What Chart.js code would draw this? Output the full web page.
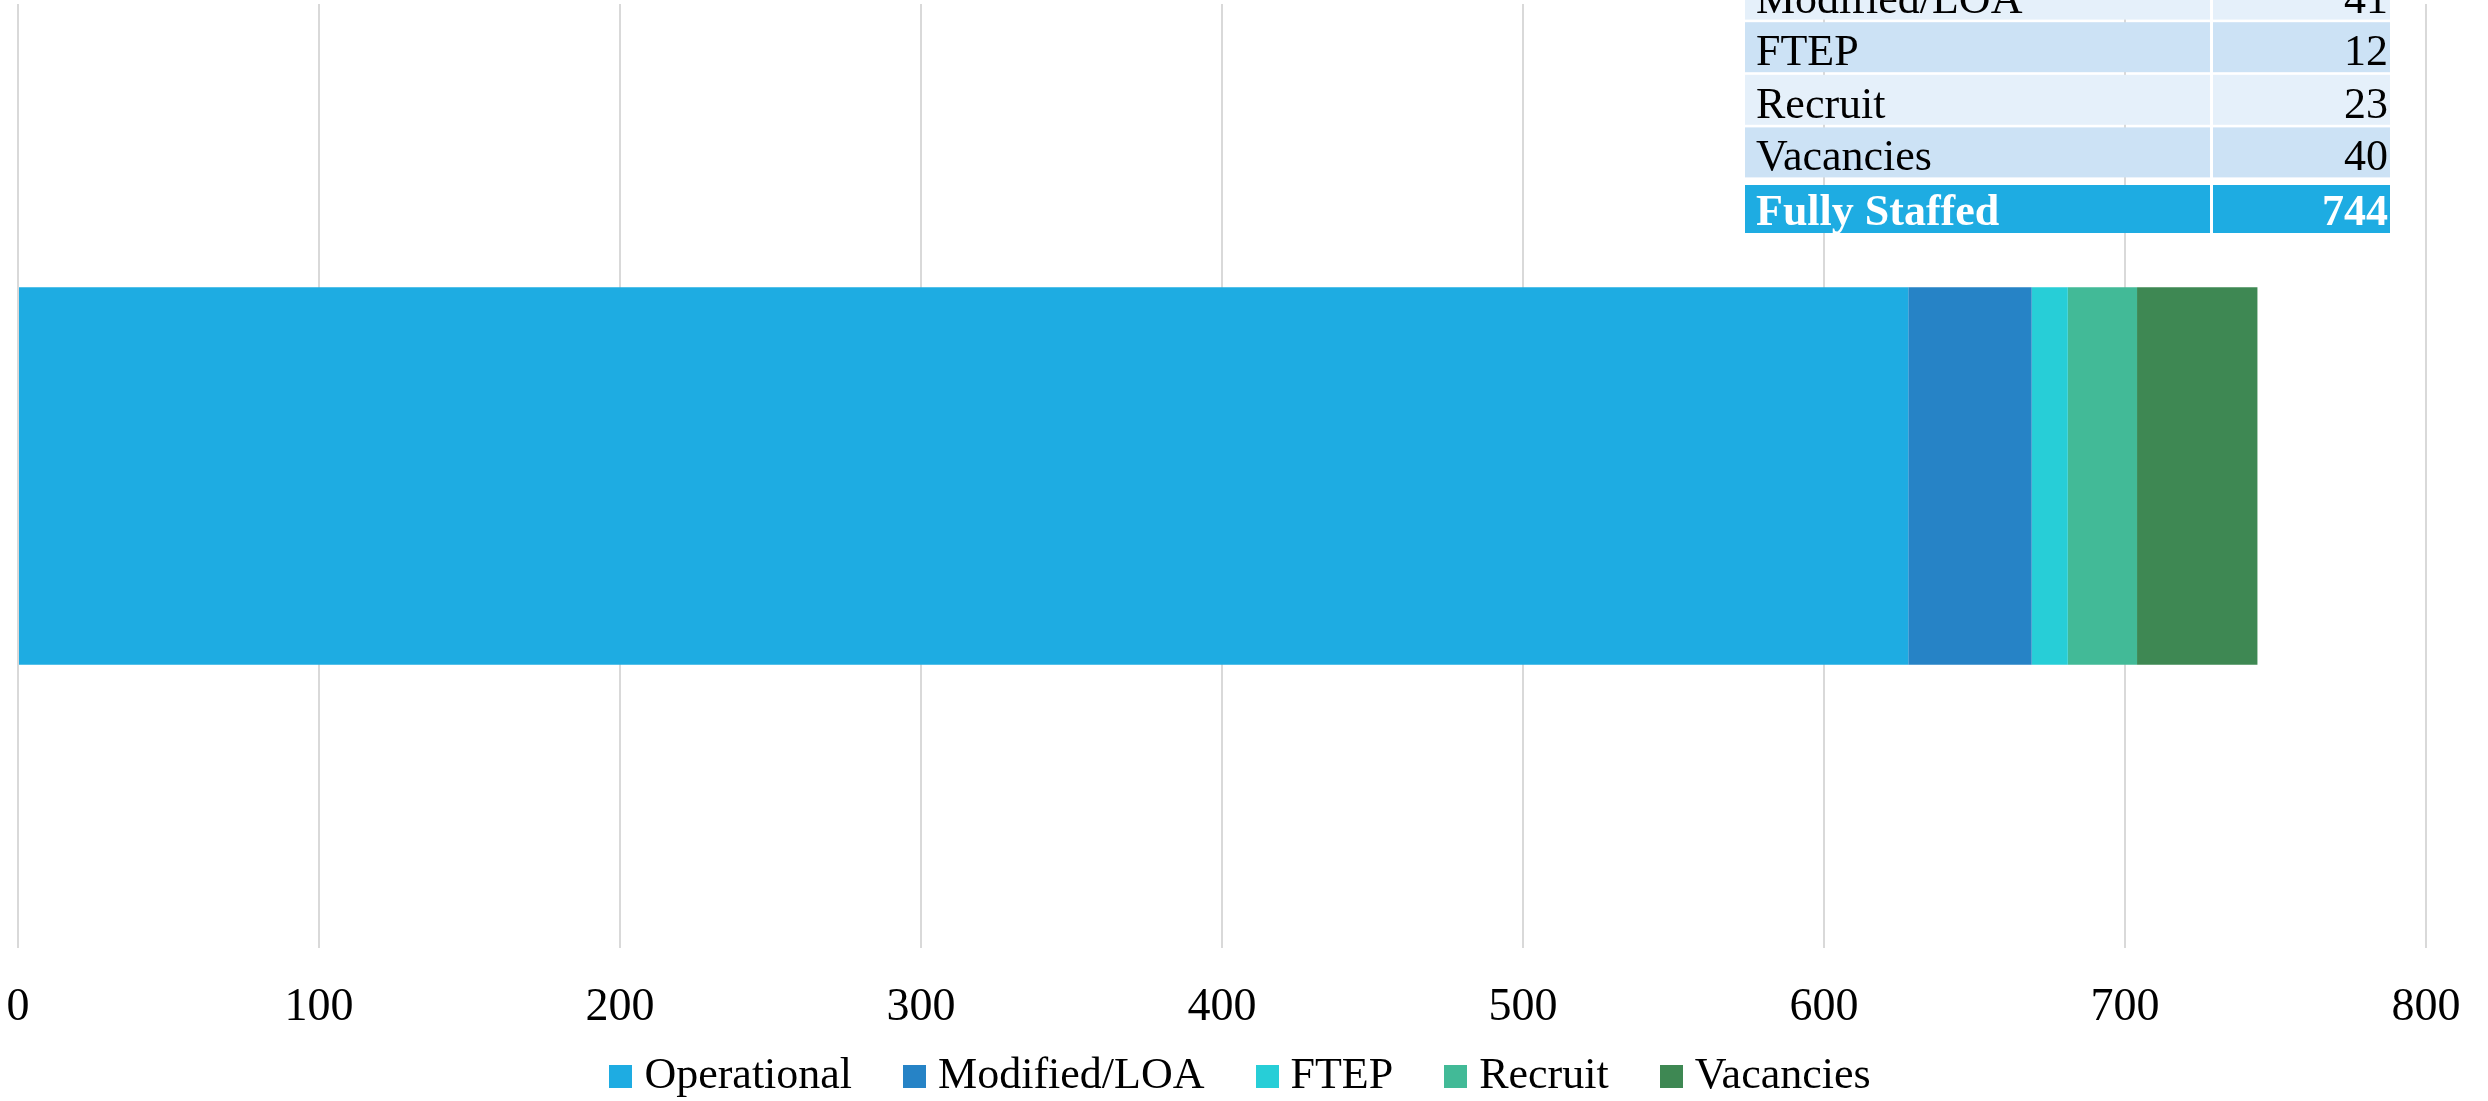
<!DOCTYPE html>
<html>
<head>
<meta charset="utf-8">
<script src="https://cdn.jsdelivr.net/npm/chart.js@4"></script>
<style>
  html, body { margin: 0; padding: 0; background: #fff; }
  #wrap { width: 2488px; height: 1101px; position: relative; }
</style>
</head>
<body>
<div id="wrap"><canvas id="staffing"></canvas></div>
<script>
const categories = ['Staffing']
const seriesNames = ['Operational', 'Modified/LOA', 'FTEP', 'Recruit', 'Vacancies']
const seriesValues = [628, 41, 12, 23, 40]
const seriesColors = ['#1EACE2', '#2683C6', '#27CED7', '#42BA97', '#3E8853']
const xTicks = [0, 100, 200, 300, 400, 500, 600, 700, 800]
const totalLabel = 'Fully Staffed'
const totalValue = 744

const FONT = "'Liberation Serif', 'DejaVu Serif', serif"

// square legend swatch, drawn as an image so the text can sit close to it
function swatch(color) {
  const c = document.createElement('canvas')
  c.width = 23
  c.height = 23
  const g = c.getContext('2d')
  g.fillStyle = color
  g.fillRect(0, 0, 23, 23)
  return c
}

// summary table in the top right corner (partly cut off at the top)
const tablePlugin = {
  id: 'summaryTable',
  afterDraw(chart) {
    const ctx = chart.ctx
    const left = 1745, split = 2211, right = 2390
    const pitch = 52.6, rowH = 50
    const firstTop = 185 - 8 - pitch * 5 + 3
    const rows = seriesNames.map((n, i) => [n, seriesValues[i]])
    ctx.save()
    rows.forEach((r, i) => {
      const top = firstTop + i * pitch
      ctx.fillStyle = i % 2 === 1 ? '#E5F0FA' : '#CCE2F5'
      ctx.fillRect(left, top, split - left - 1, rowH)
      ctx.fillRect(split + 2, top, right - split - 2, rowH)
      ctx.fillStyle = '#000'
      ctx.font = '44px ' + FONT
      ctx.textBaseline = 'alphabetic'
      ctx.textAlign = 'left'
      ctx.fillText(r[0], left + 11, top + 43)
      ctx.textAlign = 'right'
      ctx.fillText(String(r[1]), right - 2, top + 43)
    })
    const top = 185
    ctx.fillStyle = '#1EACE2'
    ctx.fillRect(left, top, split - left - 1, 48)
    ctx.fillRect(split + 2, top, right - split - 2, 48)
    ctx.fillStyle = '#fff'
    ctx.font = 'bold 44px ' + FONT
    ctx.textAlign = 'left'
    ctx.fillText(totalLabel, left + 11, top + 40)
    ctx.textAlign = 'right'
    ctx.fillText(String(totalValue), right - 2, top + 40)
    ctx.restore()
  }
}

// pull the legend up and re-center it on the page, not on the plot area
const legendShift = {
  id: 'legendShift',
  afterLayout(chart) {
    const lg = chart.legend
    const h = lg.bottom - lg.top
    lg.top = 993
    lg.bottom = 993 + h
    lg.left += 23
    lg.right += 23
  }
}

new Chart(document.getElementById('staffing'), {
  type: 'bar',
  data: {
    labels: categories,
    datasets: seriesNames.map((name, i) => ({
      label: name,
      data: [seriesValues[i]],
      backgroundColor: seriesColors[i],
      borderWidth: 0,
      categoryPercentage: 0.5,
      barPercentage: 0.8,
    }))
  },
  options: {
    indexAxis: 'y',
    responsive: true,
    maintainAspectRatio: false,
    animation: false,
    layout: { padding: { left: 18, right: 62, top: 4, bottom: -43 } },
    scales: {
      x: {
        stacked: true,
        min: 0,
        max: 800,
        afterBuildTicks: axis => { axis.ticks = xTicks.map(v => ({ value: v })) },
        afterFit: axis => {
          axis.paddingLeft = 0
          axis.paddingRight = 0
          axis.height = 81
        },
        grid: { color: '#D9D9D9', lineWidth: 2, drawTicks: false },
        border: { display: false },
        ticks: { color: '#000', padding: 34, font: { family: FONT, size: 46, lineHeight: 1.13 } }
      },
      y: {
        stacked: true,
        display: false
      }
    },
    plugins: {
      legend: {
        position: 'bottom',
        labels: {
          color: '#000',
          font: { family: FONT, size: 44 },
          usePointStyle: true,
          pointStyleWidth: 3,
          boxHeight: 23,
          padding: 61,
          generateLabels: chart =>
            Chart.defaults.plugins.legend.labels.generateLabels(chart).map(item => ({
              ...item,
              pointStyle: swatch(seriesColors[item.datasetIndex]),
            }))
        }
      },
      tooltip: { enabled: false }
    }
  },
  plugins: [tablePlugin, legendShift]
})
</script>
</body>
</html>
